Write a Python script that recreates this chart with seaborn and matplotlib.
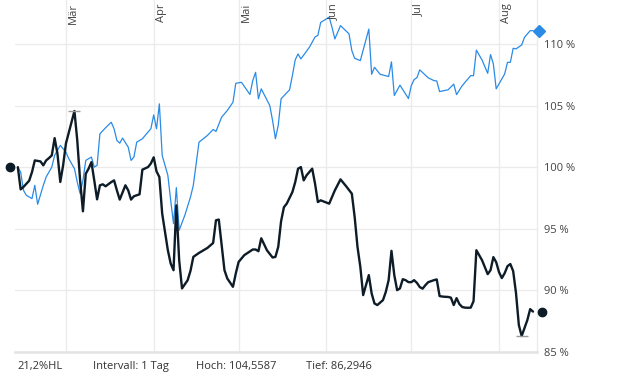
import matplotlib
matplotlib.use("Agg")
import matplotlib.pyplot as plt
import matplotlib.transforms as mtransforms
import seaborn as sns
import pandas as pd

YEAR = "2024"

black_dates = [
    "02-13", "02-14", "02-15", "02-17", "02-18", "02-19", "02-21", "02-22", "02-23", "02-24",
    "02-25", "02-26", "02-27", "02-28", "02-29", "03-01", "03-04", "03-05", "03-06", "03-07",
    "03-08", "03-09", "03-10", "03-11", "03-12", "03-13", "03-14", "03-15", "03-17", "03-18",
    "03-19", "03-20", "03-22", "03-23", "03-24", "03-25", "03-27", "03-28", "03-30", "03-31",
    "04-01", "04-02", "04-03", "04-04", "04-05", "04-06", "04-07", "04-08", "04-09", "04-10",
    "04-11", "04-13", "04-14", "04-15", "04-17", "04-20", "04-22", "04-23", "04-24", "04-26",
    "04-27", "04-29", "04-30", "05-01", "05-03", "05-06", "05-07", "05-08", "05-09", "05-11",
    "05-13", "05-14", "05-15", "05-16", "05-17", "05-18", "05-20", "05-21", "05-22", "05-23",
    "05-24", "05-25", "05-27", "05-28", "05-29", "05-30", "06-02", "06-04", "06-06", "06-08",
    "06-10", "06-11", "06-12", "06-13", "06-14", "06-15", "06-16", "06-17", "06-18", "06-19",
    "06-21", "06-22", "06-23", "06-24", "06-25", "06-26", "06-27", "06-28", "06-29", "06-30",
    "07-01", "07-02", "07-03", "07-04", "07-05", "07-06", "07-07", "07-08", "07-09", "07-10",
    "07-11", "07-12", "07-13", "07-14", "07-15", "07-16", "07-17", "07-18", "07-19", "07-20",
    "07-21", "07-22", "07-23", "07-24", "07-26", "07-28", "07-29", "07-30", "07-31", "08-01",
    "08-02", "08-03", "08-04", "08-05", "08-06", "08-07", "08-08", "08-09", "08-10", "08-11",
    "08-12", "08-13",
]
black_values = [
    100.0, 98.2, 98.4, 98.9, 99.6, 100.55, 100.47, 100.15, 100.55, 100.74,
    100.96, 102.36, 101.1, 98.8, 100.15, 101.93, 104.5587, 102.17, 98.93, 96.42,
    99.47, 99.88, 100.41, 98.93, 97.39, 98.53, 98.61, 98.45, 98.79, 98.93,
    98.12, 97.37, 98.53, 98.12, 97.37, 97.64, 97.8, 99.8, 100.01, 100.3,
    100.8, 99.66, 99.2, 96.23, 94.74, 93.26, 92.18, 91.64, 96.9, 92.45,
    90.16, 90.83, 91.59, 92.72, 93.04, 93.45, 93.85, 95.69, 95.75, 91.64,
    90.97, 90.29, 91.37, 92.31, 92.86, 93.32, 93.32, 93.18, 94.23, 93.26,
    92.67, 92.72, 93.53, 95.61, 96.75, 97.04, 97.98, 98.79, 99.88, 100.01,
    98.93, 99.34, 99.88, 98.66, 97.17, 97.31, 97.04, 98.12, 99.01, 98.45,
    97.85, 95.96, 93.53, 91.91, 89.62, 90.43, 91.24, 89.75, 88.94, 88.81,
    89.21, 89.88, 90.83, 93.21, 91.24, 90.02, 90.16, 90.91, 90.83, 90.67,
    90.67, 90.83, 90.61, 90.27, 90.14, 90.43, 90.67, 90.75, 90.83, 90.89,
    89.54, 89.5, 89.48, 89.47, 89.41, 88.81, 89.37, 88.89, 88.65, 88.6,
    88.59, 88.6, 89.13, 93.26, 92.45, 91.32, 91.64, 92.7, 92.29, 91.48,
    91.0, 91.4, 91.97, 92.14, 91.56, 89.78, 87.19, 86.2946, 86.94, 87.59,
    88.48, 88.28,
]

blue_dates = [
    "02-13", "02-14", "02-15", "02-16", "02-18", "02-19", "02-20", "02-22", "02-23", "02-25",
    "02-26", "02-28", "03-01", "03-02", "03-04", "03-05", "03-06", "03-07", "03-08", "03-09",
    "03-10", "03-11", "03-12", "03-13", "03-15", "03-17", "03-18", "03-19", "03-20", "03-21",
    "03-23", "03-24", "03-25", "03-26", "03-28", "03-29", "03-31", "04-01", "04-02", "04-03",
    "04-04", "04-06", "04-07", "04-08", "04-09", "04-10", "04-12", "04-14", "04-15", "04-17",
    "04-20", "04-22", "04-23", "04-25", "04-27", "04-29", "04-30", "05-02", "05-05", "05-06",
    "05-07", "05-08", "05-09", "05-12", "05-13", "05-14", "05-15", "05-16", "05-19", "05-20",
    "05-21", "05-22", "05-23", "05-26", "05-28", "05-29", "05-30", "06-02", "06-03", "06-04",
    "06-06", "06-09", "06-10", "06-11", "06-13", "06-16", "06-17", "06-18", "06-20", "06-23",
    "06-24", "06-25", "06-27", "06-30", "07-01", "07-02", "07-03", "07-04", "07-07", "07-09",
    "07-10", "07-11", "07-14", "07-16", "07-17", "07-19", "07-22", "07-23", "07-24", "07-26",
    "07-28", "07-29", "07-30", "07-31", "08-03", "08-04", "08-05", "08-06", "08-07", "08-09",
    "08-10", "08-12", "08-13",
]
blue_values = [
    100.0, 99.6, 98.12, 97.72, 97.45, 98.53, 96.99, 98.53, 99.2, 100.01,
    100.96, 101.77, 101.22, 100.69, 99.88, 98.79, 97.85, 98.93, 100.55, 100.69,
    100.82, 100.01, 100.15, 102.71, 103.2, 103.65, 103.12, 102.17, 101.95, 102.36,
    101.63, 100.55, 100.82, 102.03, 102.31, 102.58, 103.12, 104.24, 103.12, 105.14,
    100.96, 99.34, 97.31, 95.42, 98.34, 94.88, 96.1, 97.58, 98.53, 102.03,
    102.58, 103.06, 102.9, 104.06, 104.6, 105.27, 106.81, 106.89, 105.9, 107.03,
    107.7, 105.55, 106.36, 105.01, 103.79, 102.31, 103.4, 105.55, 106.28, 107.44,
    108.71, 109.19, 108.79, 109.73, 110.57, 110.7, 111.75, 112.18, 111.35, 110.41,
    111.49, 110.82, 109.46, 108.84, 108.65, 111.21, 107.54, 108.11, 107.54, 107.36,
    108.55, 105.82, 106.66, 105.57, 106.62, 107.11, 107.27, 107.9, 107.25, 107.03,
    107.0, 106.14, 106.28, 106.74, 105.89, 106.62, 107.43, 107.43, 109.5, 108.7,
    107.62, 109.14, 108.38, 106.36, 107.57, 108.51, 108.51, 109.65, 109.6, 109.92,
    110.54, 111.08, 111.08,
]

month_ticks = ["03-01", "04-01", "05-01", "06-01", "07-01", "08-01"]
month_labels = ["Mär", "Apr", "Mai", "Jun", "Jul", "Aug"]
y_ticks = [85, 90, 95, 100, 105, 110]
x_limits = ["2024-02-12 00:00", "2024-08-14 10:00"]
y_limits = [85, 113.57]
interval_text = "Intervall: 1 Tag"

BLACK = "#0d1c27"
BLUE = "#2a8be6"
GRID = "#ebebeb"
TEXT = "#444444"

def to_dt(lst):
    return pd.to_datetime([f"{YEAR}-{d}" for d in lst])

df_black = pd.DataFrame({"date": to_dt(black_dates), "value": black_values})
df_blue = pd.DataFrame({"date": to_dt(blue_dates), "value": blue_values})

sns.set_theme(style="white")
plt.rcParams["font.family"] = ["Open Sans", "DejaVu Sans"]

fig = plt.figure(figsize=(6.2, 3.72), dpi=100)
ax = fig.add_axes([15 / 620, 20 / 372, 522 / 620, 352 / 372])

sns.lineplot(data=df_blue, x="date", y="value", color=BLUE, linewidth=0.9, ax=ax, zorder=3)
sns.lineplot(data=df_black, x="date", y="value", color=BLACK, linewidth=1.7, ax=ax, zorder=4)

ax.set_xlim(pd.Timestamp(x_limits[0]), pd.Timestamp(x_limits[1]))
ax.set_ylim(*y_limits)
ax.set_xlabel("")
ax.set_ylabel("")

# grid
month_dt = to_dt(month_ticks)
ax.set_xticks(month_dt)
ax.set_xticklabels([])
ax.set_yticks(y_ticks)
ax.set_yticklabels([f"{v} %" for v in y_ticks])
ax.yaxis.tick_right()
ax.tick_params(axis="y", length=0, pad=5, labelsize=8, labelcolor=TEXT)
ax.tick_params(axis="x", length=0, labelbottom=False)
ax.grid(True, color=GRID, linewidth=1)
ax.set_axisbelow(True)

for side in ["left", "top"]:
    ax.spines[side].set_visible(False)
ax.spines["right"].set_color(GRID)
ax.spines["right"].set_linewidth(1)
ax.spines["bottom"].set_color("#e3e3e3")
ax.spines["bottom"].set_linewidth(1.8)

# month labels at top, inside the plot
for d, lab in zip(month_dt, month_labels):
    ax.annotate(lab, xy=(d, 1), xycoords=("data", "axes fraction"),
                xytext=(2, -3), textcoords="offset pixels",
                rotation=90, ha="left", va="top", fontsize=8, color=TEXT)

# high / low markers
bmax_i = df_black["value"].idxmax()
bmin_i = df_black["value"].idxmin()
for i in (bmax_i, bmin_i):
    ax.plot(df_black["date"][i], df_black["value"][i], marker="_", markersize=8,
            mew=1, color="#9a9a9a", zorder=5)

# start / end markers
blend = mtransforms.blended_transform_factory(ax.transAxes, ax.transData)
t_left = mtransforms.offset_copy(blend, fig=fig, x=-5, y=0, units="dots")
t_r1 = mtransforms.offset_copy(blend, fig=fig, x=2, y=0, units="dots")
t_r2 = mtransforms.offset_copy(blend, fig=fig, x=5, y=0, units="dots")
ax.plot([0], [black_values[0]], "o", color=BLACK, markersize=6, transform=t_left, clip_on=False, zorder=6)
ax.plot([1], [blue_values[-1]], "D", color=BLUE, markersize=6, transform=t_r1, clip_on=False, zorder=6)
ax.plot([1], [black_values[-1]], "o", color=BLACK, markersize=6, transform=t_r2, clip_on=False, zorder=6)

# bottom info line
hoch = max(black_values)
tief = min(black_values)
hl = (hoch - tief) / tief * 100
def de(v, nd):
    return f"{v:.{nd}f}".replace(".", ",")
info = [
    (17, f"{de(hl, 1)}%HL"),
    (93, interval_text),
    (196, f"Hoch: {de(hoch, 4)}"),
    (306, f"Tief: {de(tief, 4)}"),
]
for xp, s in info:
    fig.text(xp / 620, 3 / 372, s, ha="left", va="baseline", fontsize=8, color="#333333")

fig.savefig("out.png", dpi=100)
